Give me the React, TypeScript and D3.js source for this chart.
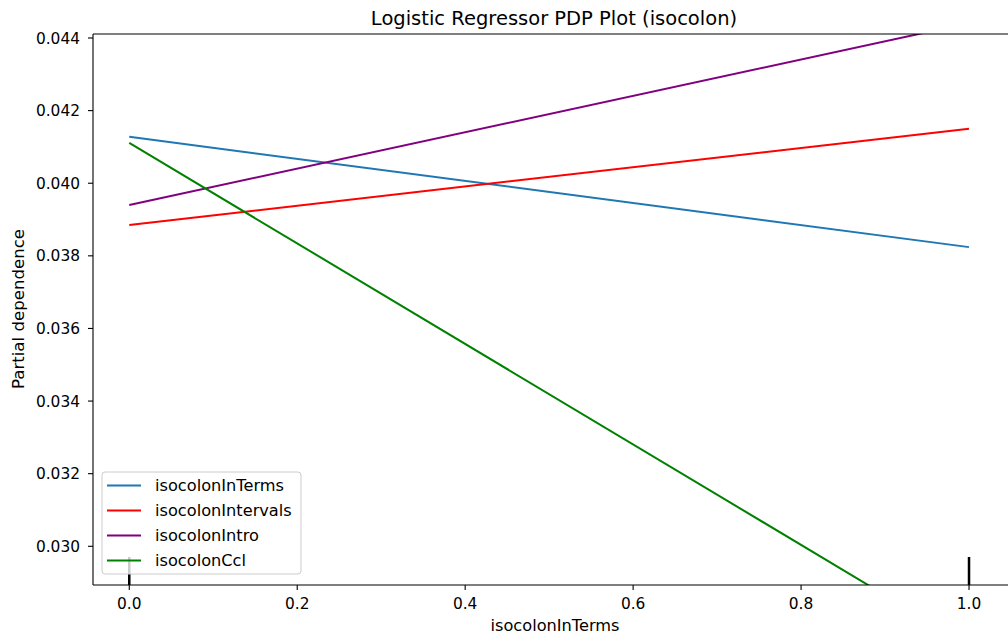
import * as d3 from "d3";

const xValues = [0, 1];
const seriesNames = ["isocolonInTerms", "isocolonIntervals", "isocolonIntro", "isocolonCcl"];
const seriesColors = ["#1f77b4", "red", "purple", "green"];
const inTerms = [0.04128, 0.03824];
const intervals = [0.03885, 0.0415];
const intro = [0.0394, 0.04441];
const ccl = [0.04111, 0.02727];
const deciles = [0, 1];
const xTicks = [0, 0.2, 0.4, 0.6, 0.8, 1.0];
const yTicks = [0.03, 0.032, 0.034, 0.036, 0.038, 0.04, 0.042, 0.044];

const W = 1008;
const H = 637;
const left = 93;
const right = 1011;
const top = 34;
const bottom = 585;
const font = "DejaVu Sans, sans-serif";

export default function App() {
  const x = d3.scaleLinear().domain([-0.0432, 1.05]).range([left, right]);
  const y = d3.scaleLinear().domain([0.028934, 0.04411]).range([bottom, top]);
  const allSeries = [inTerms, intervals, intro, ccl];
  const line = d3
    .line<number>()
    .x((_, i) => x(xValues[i]))
    .y((d) => y(d));

  return (
    <svg
      width={W}
      height={H}
      style={{ position: "absolute", left: 0, top: 0, background: "#fff" }}
      fontFamily={font}
    >
      <defs>
        <clipPath id="plot">
          <rect x={left} y={top} width={right - left} height={bottom - top} />
        </clipPath>
      </defs>
      <text x={554} y={25} textAnchor="middle" fontSize={19.5} fill="#000">
        Logistic Regressor PDP Plot (isocolon)
      </text>

      <g clipPath="url(#plot)">
        {allSeries.map((s, i) => (
          <path key={i} d={line(s) ?? ""} fill="none" stroke={seriesColors[i]} strokeWidth={2} />
        ))}
        {deciles.map((d, i) => (
          <line key={i} x1={x(d)} x2={x(d)} y1={bottom} y2={bottom - 28} stroke="#000" strokeWidth={2.5} />
        ))}
      </g>

      {/* spines */}
      <line x1={left} x2={left} y1={top} y2={bottom} stroke="#000" strokeWidth={1.1} />
      <line x1={left} x2={right} y1={top} y2={top} stroke="#000" strokeWidth={1.1} />
      <line x1={left} x2={right} y1={bottom} y2={bottom} stroke="#000" strokeWidth={1.1} />

      {/* y axis */}
      {yTicks.map((t) => (
        <g key={t}>
          <line x1={left - 5} x2={left} y1={y(t)} y2={y(t)} stroke="#000" strokeWidth={1.1} />
          <text x={80} y={y(t)} dy="0.36em" textAnchor="end" fontSize={15.4} fill="#000">
            {d3.format(".3f")(t)}
          </text>
        </g>
      ))}
      {/* x axis */}
      {xTicks.map((t) => (
        <g key={t}>
          <line x1={x(t)} x2={x(t)} y1={bottom} y2={bottom + 5} stroke="#000" strokeWidth={1.1} />
          <text x={x(t)} y={609} textAnchor="middle" fontSize={15.4} fill="#000">
            {d3.format(".1f")(t)}
          </text>
        </g>
      ))}
      <text x={555} y={631} textAnchor="middle" fontSize={16.2} fill="#000">
        isocolonInTerms
      </text>
      <text
        transform={`translate(24,309) rotate(-90)`}
        textAnchor="middle"
        fontSize={16.6}
        fill="#000"
      >
        Partial dependence
      </text>

      {/* legend */}
      <rect x={102} y={472} width={199} height={102} rx={3} fill="#fff" fillOpacity={0.8} stroke="#ccc" strokeWidth={1} />
      {seriesNames.map((n, i) => {
        const cy = 485.5 + i * 25;
        return (
          <g key={n}>
            <line x1={107} x2={141} y1={cy} y2={cy} stroke={seriesColors[i]} strokeWidth={2} />
            <text x={155} y={cy} dy="0.36em" fontSize={16.2} fill="#000">
              {n}
            </text>
          </g>
        );
      })}
    </svg>
  );
}
